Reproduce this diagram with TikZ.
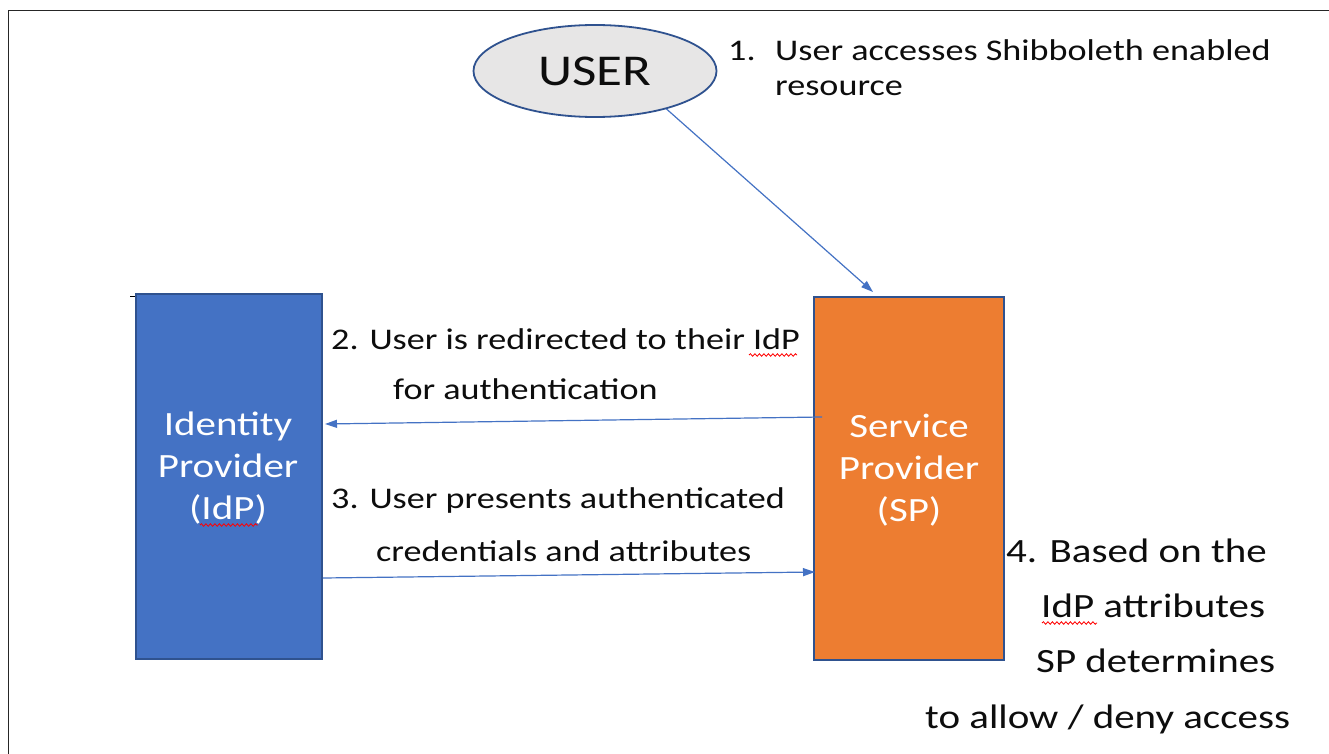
\documentclass[tikz,border=0pt]{standalone}
\usepackage{fontspec}
\setmainfont{Carlito}[FakeStretch=1.205]
\usetikzlibrary{arrows.meta,calc,shapes.geometric,decorations.pathmorphing}
\definecolor{idpblue}{HTML}{4472C4}
\definecolor{edgeblue}{HTML}{2F528F}
\definecolor{spor}{HTML}{ED7D31}
\definecolor{usergray}{HTML}{E7E6E6}
\definecolor{txt}{HTML}{0D0D0D}
\definecolor{framec}{HTML}{262626}
\begin{document}
\begin{tikzpicture}[x=1pt,y=-1pt,
  lbl/.style={anchor=base west,inner sep=0pt,text=txt,font=\fontsize{30}{36}\selectfont},
  lblbig/.style={anchor=base west,inner sep=0pt,text=txt,font=\fontsize{34}{40}\selectfont},
  boxtxt/.style={anchor=base,inner sep=0pt,text=white,font=\fontsize{34}{40}\selectfont},
  boxshape/.style={draw=edgeblue,line width=2pt,inner sep=0pt,anchor=north west},
  conn/.style={draw=idpblue,line width=1.2pt,-{Triangle[length=12pt,width=8pt]}},
  squig/.style={draw=red,line width=0.8pt,decorate,decoration={snake,amplitude=1.3pt,segment length=4.5pt}}]
\useasboundingbox (0,0) rectangle (1329,754);
\fill[white] (0,0) rectangle (1329,754);
% frame
\draw[framec,line width=1.6pt] (8.5,754) -- (8.5,10.5) -- (1329,10.5);
% small tick
\draw[black,line width=1.4pt] (130,296.5) -- (136,296.5);
% boxes
\node[boxshape,fill=idpblue,minimum width=186pt,minimum height=365pt] (idp) at (135,293) {};
\node[boxshape,fill=spor,minimum width=190pt,minimum height=363pt] (sp) at (813,296) {};
% user ellipse
\node[ellipse,draw=edgeblue,fill=usergray,line width=1.8pt,minimum width=243pt,minimum height=92pt,inner sep=0pt,text=txt,font=\fontsize{44}{50}\selectfont] (user) at (595,71) {USER};
% box texts
\node[boxtxt] (idp1) at (228,435) {Identity};
\node[boxtxt] (idp2) at (228,477) {Provider};
\node[boxtxt] (idp3) at (228,519) {(IdP)};
\node[boxtxt] (sp1) at (909,437) {Service};
\node[boxtxt] (sp2) at (909,479) {Provider};
\node[boxtxt] (sp3) at (909,521) {(SP)};
% labels
\node[lbl] (n1) at (728,61) {1.};
\node[lbl] (t1a) at (775,61) {User accesses Shibboleth enabled};
\node[lbl] (t1b) at (775,96) {resource};
\node[lbl] (t2a) at (331,349) {2. User is redirected to their IdP};
\node[lbl] (t2b) at (393,399) {for authentication};
\node[lbl] (t3a) at (331,508) {3. User presents authenticated};
\node[lbl] (t3b) at (376,561) {credentials and attributes};
\node[lblbig] (t4a) at (1006,562) {4. Based on the};
\node[lblbig] (t4b) at (1041,617) {IdP attributes};
\node[lblbig] (t4c) at (1036,672) {SP determines};
\node[lblbig] (t4d) at (925,728) {to allow / deny access};
% spell-check squiggles
\draw[squig] (749,355) -- (797,355);
\draw[squig] (200,525) -- (258,525);
\draw[squig] (1042,623) -- (1097,623);
% connectors
\draw[conn] (user.-28) -- ($(sp.north)+(-36,-4)$);
\draw[conn] ($(sp.west)+(9,-61.5)$) -- ($(idp.east)+(2,-52.5)$);
\draw[conn] ($(idp.east)+(0,101.5)$) -- ($(sp.west)+(2,93.5)$);
\end{tikzpicture}
\end{document}
